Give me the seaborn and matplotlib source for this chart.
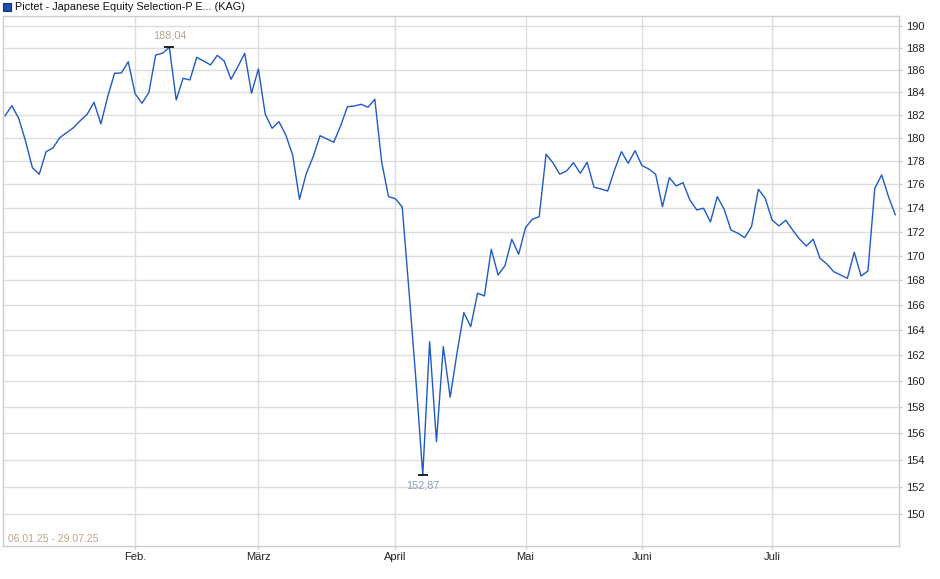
import numpy as np
import pandas as pd
import seaborn as sns
import matplotlib
matplotlib.use("Agg")
import matplotlib.pyplot as plt
from matplotlib.ticker import FixedLocator, FixedFormatter, NullLocator
from matplotlib.patches import Rectangle

# Daily prices 06.01.25 - 29.07.25
prices = [
    181.90, 182.81, 181.70, 179.71, 177.40, 176.84, 178.78, 179.10, 180.00, 180.43,
    180.87, 181.49, 182.05, 183.11, 181.20, 183.61, 185.70, 185.73, 186.74, 183.87,
    183.02, 183.96, 187.35, 187.51, 188.04, 183.31, 185.25, 185.10, 187.14, 186.81,
    186.45, 187.32, 186.81, 185.16, 186.29, 187.51, 183.91, 186.09, 182.05, 180.82,
    181.40, 180.23, 178.50, 174.71, 176.92, 178.35, 180.17, 179.88, 179.60, 181.02,
    182.72, 182.78, 182.93, 182.67, 183.38, 177.89, 174.93, 174.76, 174.06, 167.04,
    160.08, 152.87, 163.07, 155.36, 162.68, 158.74, 162.18, 165.38, 164.26, 166.94,
    166.72, 170.53, 168.42, 169.18, 171.36, 170.12, 172.32, 173.03, 173.24, 178.56,
    177.83, 176.84, 177.12, 177.83, 176.92, 177.87, 175.73, 175.58, 175.41, 177.21,
    178.78, 177.78, 178.87, 177.58, 177.29, 176.84, 174.08, 176.55, 175.84, 176.12,
    174.65, 173.81, 173.95, 172.80, 174.93, 173.87, 172.13, 171.86, 171.49, 172.41,
    175.56, 174.79, 172.97, 172.47, 172.94, 172.13, 171.38, 170.80, 171.36, 169.79,
    169.32, 168.69, 168.42, 168.15, 170.28, 168.34, 168.75, 175.64, 176.78, 174.93,
    173.39,
]

# first trading day of each month (position in the series)
month_labels = ["Feb.", "März", "April", "Mai", "Juni", "Juli"]
month_pos = [19, 37, 57, 76, 93, 112]

y_ticks = list(range(150, 191, 2))

title = "Pictet - Japanese Equity Selection-P E... (KAG)"
period = "06.01.25 - 29.07.25"

df = pd.DataFrame({"day": np.arange(len(prices)), "price": prices})

sns.set_style("white")
plt.rcParams["font.family"] = ["Liberation Sans", "DejaVu Sans"]

grid_col = "#dddddd"
line_col = "#1f5bc4"

fig = plt.figure(figsize=(9.4, 5.79), dpi=100)
ax = fig.add_axes([3 / 940, 1 - 546 / 579, 895.7 / 940, 530 / 579])

sns.lineplot(data=df, x="day", y="price", ax=ax, color=line_col, linewidth=1.0)

ax.set_yscale("log")
ax.set_ylim(147.71, 190.92)
ax.set_xlim(-0.29, 130.49)

ax.yaxis.set_major_locator(FixedLocator(y_ticks))
ax.yaxis.set_major_formatter(FixedFormatter([str(t) for t in y_ticks]))
ax.yaxis.set_minor_locator(NullLocator())
ax.yaxis.tick_right()
ax.set_xticks(month_pos)
ax.set_xticklabels(month_labels)

ax.grid(True, color=grid_col, linewidth=1.0)
ax.set_axisbelow(True)
for s in ax.spines.values():
    s.set_color("#cccccc")
    s.set_linewidth(1.0)
ax.tick_params(axis="y", right=True, length=2, width=1, color="#cccccc",
               labelsize=8, labelcolor="#222222", pad=3)
ax.tick_params(axis="x", bottom=True, length=2, width=1, color="#cccccc",
               labelsize=8, labelcolor="#222222", pad=2)
ax.set_xlabel("")
ax.set_ylabel("")

# high / low markers
i_max = int(np.argmax(prices))
i_min = int(np.argmin(prices))
ax.plot([i_max], [prices[i_max]], marker="_", color="black", markersize=7, mew=1.2)
ax.plot([i_min], [prices[i_min]], marker="_", color="black", markersize=7, mew=1.2)
ax.annotate(f"{prices[i_max]:.2f}".replace(".", ","), (i_max, prices[i_max]),
            xytext=(0, 5), textcoords="offset points", ha="center", va="bottom",
            fontsize=7.8, color="#b0a594")
ax.annotate(f"{prices[i_min]:.2f}".replace(".", ","), (i_min, prices[i_min]),
            xytext=(0, -4), textcoords="offset points", ha="center", va="top",
            fontsize=7.8, color="#8d9cb8")

# legend entry at top
fig.patches.append(Rectangle((3 / 940, 1 - 11 / 579), 8 / 940, 8 / 579,
                             transform=fig.transFigure, facecolor="#1c4fb4",
                             edgecolor="#16336e", linewidth=0.8))
fig.text(15 / 940, 1 - 6.5 / 579, title, fontsize=7.8, color="#111111",
         ha="left", va="center")
fig.text(8 / 940, 1 - 539 / 579, period, fontsize=7.5, color="#b9a488",
         ha="left", va="center")

fig.savefig("out.png", dpi=100)
